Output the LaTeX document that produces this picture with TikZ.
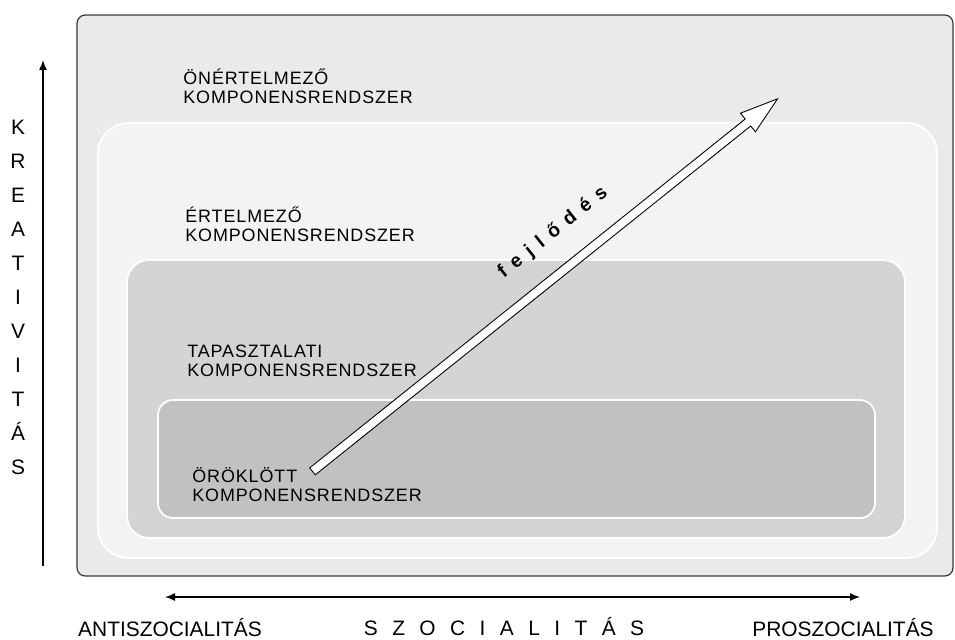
\documentclass[tikz,border=0pt]{standalone}
\usepackage{fontspec}
\setmainfont{Liberation Sans}
\newfontfamily\boxfont[LetterSpace=5]{Liberation Sans}
\newfontfamily\spacedfont[LetterSpace=69]{Liberation Sans}
\newfontfamily\fejlfont[LetterSpace=45]{Liberation Sans}
\usetikzlibrary{shapes.arrows,arrows.meta}
\definecolor{outergray}{HTML}{EAEAEA}
\definecolor{ertgray}{HTML}{F3F3F3}
\definecolor{tapgray}{HTML}{D4D4D4}
\definecolor{orogray}{HTML}{C1C1C1}
\definecolor{edgegray}{HTML}{3A3A3A}

\begin{document}
\begin{tikzpicture}[x=0.02cm, y=-0.02cm,
		level/.style={shape=rectangle, draw=white, line width=1pt, inner sep=0pt, outer sep=0pt},
		levellabel/.style={anchor=base west, align=left, inner sep=0pt, font=\boxfont\fontsize{10.2pt}{10.6pt}\selectfont},
		axislabel/.style={anchor=base, inner sep=0pt, font=\fontsize{11.9pt}{13pt}\selectfont},
		axis/.style={line width=0.8pt, -{Latex[length=0.2cm, width=0.16cm]}}]
	\useasboundingbox (0,0) rectangle (955,639);

	\node[shape=rectangle, draw=edgegray, fill=outergray, line width=0.7pt, rounded corners=0.16cm, inner sep=0pt, outer sep=0pt, minimum width=17.52cm, minimum height=11.22cm] (onert) at (515,295.5) {};
	\node[level, fill=ertgray, rounded corners=0.6cm, minimum width=16.78cm, minimum height=8.7cm] (ert) at (517.5,340.5) {};
	\node[level, fill=tapgray, rounded corners=0.44cm, minimum width=15.56cm, minimum height=5.56cm] (tap) at (516,399) {};
	\node[level, fill=orogray, rounded corners=0.3cm, minimum width=14.34cm, minimum height=2.36cm] (oro) at (516.5,459) {};

	\node[levellabel] (onert_l) at (183,103) {ÖNÉRTELMEZŐ\\KOMPONENSRENDSZER};
	\node[levellabel] (ert_l) at (185,241) {ÉRTELMEZŐ\\KOMPONENSRENDSZER};
	\node[levellabel] (tap_l) at (187,376) {TAPASZTALATI\\KOMPONENSRENDSZER};
	\node[levellabel] (oro_l) at (192,501) {ÖRÖKLÖTT\\KOMPONENSRENDSZER};

	\node[single arrow, draw=black, fill=white, line width=0.5pt, inner sep=0.08cm, minimum height=11.92cm, single arrow head extend=0.15cm, single arrow tip angle=35, rotate=38.7] (fejl) at (539.5,289.5) {};
	\node[inner sep=0pt, rotate=38.7, font=\fejlfont\bfseries\fontsize{11pt}{12pt}\selectfont] (fejl_l) at (553,233) {fejlődés};

	\coordinate (kre_start) at (43,566);
	\coordinate (kre_end) at (43,60);
	\draw[axis] (kre_start) -- (kre_end);
	\node[align=center, inner sep=0pt, font=\fontsize{11.9pt}{19.35pt}\selectfont] (kre_l) at (18,297) {K\\R\\E\\A\\T\\I\\V\\I\\T\\Á\\S};

	\coordinate (szoc_start) at (165,597);
	\coordinate (szoc_end) at (860,597);
	\draw[axis, {Latex[length=0.2cm, width=0.16cm]}-{Latex[length=0.2cm, width=0.16cm]}] (szoc_start) -- (szoc_end);
	\node[axislabel] (anti_l) at (170,636) {ANTISZOCIALITÁS};
	\node[axislabel, font=\spacedfont\fontsize{11.9pt}{13pt}\selectfont] (szoc_l) at (504,635) {SZOCIALITÁS};
	\node[axislabel] (pro_l) at (843,636) {PROSZOCIALITÁS};
\end{tikzpicture}
\end{document}
